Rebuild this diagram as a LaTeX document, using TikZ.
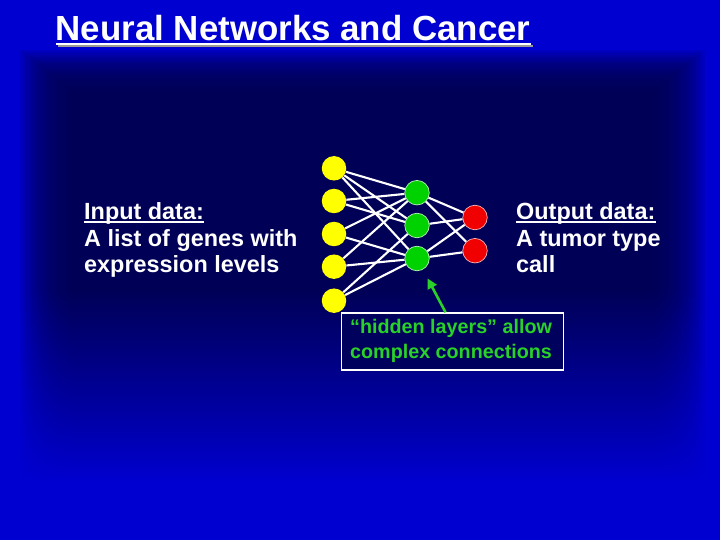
\documentclass[tikz,border=0pt]{standalone}
\usepackage{fontspec}
\setmainfont{Liberation Sans}
\usetikzlibrary{fadings,arrows.meta}
\definecolor{bgblue}{RGB}{0,0,208}
\definecolor{bgdark}{RGB}{0,0,80}
\definecolor{nngreen}{RGB}{0,210,0}
\definecolor{txtgreen}{RGB}{40,210,40}
\definecolor{nnred}{RGB}{240,0,0}
\definecolor{nnyellow}{RGB}{255,255,0}
\tikzset{
  neuron/.style={circle, minimum size=24.5bp, inner sep=0pt},
  inp/.style={neuron, fill=nnyellow},
  hid/.style={neuron, fill=nngreen, draw=white!70!nngreen, line width=0.7bp},
  outn/.style={neuron, fill=nnred, draw=white!70!nnred, line width=0.7bp},
  link/.style={draw=white, line width=2.1bp},
  bodytext/.style={anchor=base west, inner sep=0pt, text=white, font=\bfseries\fontsize{23.5}{26}\selectfont},
  boxtext/.style={anchor=base west, inner sep=0pt, text=txtgreen, font=\bfseries\fontsize{19.8}{24}\selectfont},
  uline/.style={draw=white, line width=1.5bp},
  pointer/.style={draw=txtgreen, line width=2.6bp, -{Triangle[length=10bp,width=10bp]}}
}
\begin{document}
\begin{tikzpicture}[x=1bp,y=-1bp]
\useasboundingbox (0,0) rectangle (720,540);
% background
\fill[bgblue] (0,0) rectangle (720,540);
\foreach \i in {0,...,17}{
  \fill[bgdark, fill opacity=0.13] (20+3*\i,50+2.4*\i) rectangle (705-3*\i,560);
}
\fill[bgblue, path fading=north] (0,290) rectangle (720,482);
\fill[bgblue] (0,481) rectangle (720,540);

% title
\node[anchor=base west, inner sep=0pt, text=white, font=\bfseries\fontsize{35}{40}\selectfont] (title) at (55.5,41) {Neural Networks and Cancer};
\draw[gray!80, line width=2bp] ([xshift=2bp,yshift=-5.5bp]title.base west) -- ([xshift=2bp,yshift=-5.5bp]title.base east);
\draw[white, line width=2bp] ([yshift=-3.5bp]title.base west) -- ([yshift=-3.5bp]title.base east);

% left text
\node[bodytext] (in1) at (84,219.5) {Input data:};
\draw[uline] ([yshift=-2.5bp]in1.base west) -- ([yshift=-2.5bp]in1.base east);
\node[bodytext] (in2) at (84,246.5) {A list of genes with};
\node[bodytext] (in3) at (84,272.5) {expression levels};

% right text
\node[bodytext] (out1) at (516,219.5) {Output data:};
\draw[uline] ([yshift=-2.5bp]out1.base west) -- ([yshift=-2.5bp]out1.base east);
\node[bodytext] (out2) at (516,246.5) {A tumor type};
\node[bodytext] (out3) at (516,272.5) {call};

% network
\node[inp] (Y1) at (334,168.3) {};
\node[inp] (Y2) at (334,201) {};
\node[inp] (Y3) at (334,234) {};
\node[inp] (Y4) at (334,266.7) {};
\node[inp] (Y5) at (334,300.7) {};
\node[hid] (G1) at (417,192.7) {};
\node[hid] (G2) at (417,225.5) {};
\node[hid] (G3) at (417,258.5) {};
\node[outn] (R1) at (475,217.5) {};
\node[outn] (R2) at (475,250.7) {};

\foreach \a/\b in {Y1/G1,Y1/G2,Y1/G3,Y2/G1,Y2/G2,Y3/G1,Y3/G3,Y4/G1,Y4/G3,Y5/G2,Y5/G3,
                   G1/R1,G1/R2,G2/R1,G3/R1,G3/R2}{
  \draw[link] (\a) -- (\b);
}

% annotation box
\node[draw=white, line width=1.5bp, fill=bgdark!90!bgblue, minimum width=222bp, minimum height=57bp, inner sep=0pt] (box) at (452.5,341.5) {};
\node[boxtext] (bt1) at (350,333.5) {“hidden layers” allow};
\node[boxtext] (bt2) at (350,358.5) {complex connections};
\draw[pointer, shorten >=10bp] ([xshift=-7bp]box.north) -- (G3);
\end{tikzpicture}
\end{document}
